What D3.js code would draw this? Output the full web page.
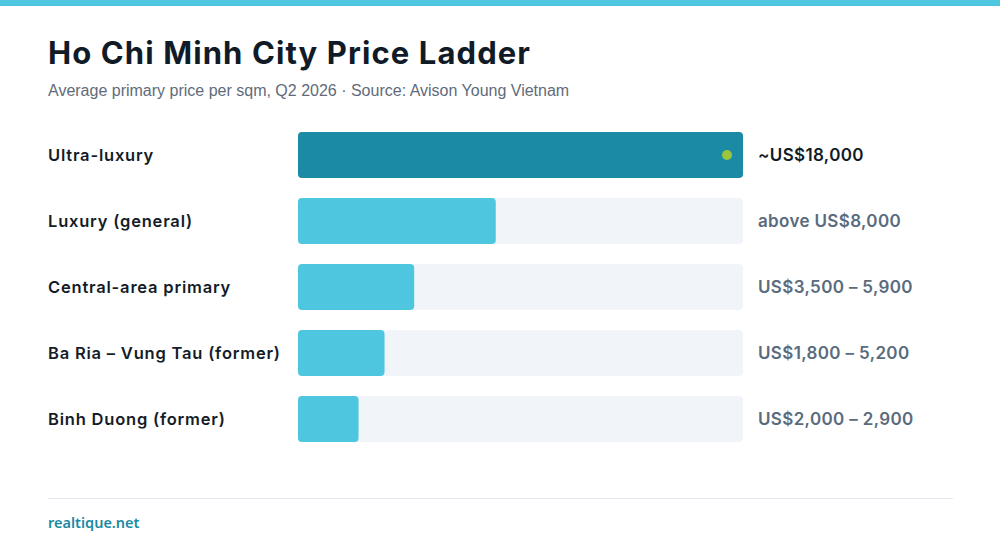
<!DOCTYPE html>
<html>
<head>
<meta charset="utf-8">
<script src="https://cdn.jsdelivr.net/npm/d3@7"></script>
<style>
  html, body { margin: 0; padding: 0; background: #fff; }
  svg { display: block; }
</style>
</head>
<body>
<svg id="chart"></svg>
<script>
// data
const categories = ["Ultra-luxury", "Luxury (general)", "Central-area primary", "Ba Ria \u2013 Vung Tau (former)", "Binh Duong (former)"];
const barValues = [18000, 8000, 4700, 3500, 2450]; // bar length (range midpoint), US$/sqm
const valueLabels = ["~US$18,000", "above US$8,000", "US$3,500 \u2013 5,900", "US$1,800 \u2013 5,200", "US$2,000 \u2013 2,900"];
const maxValue = 18000;

const width = 1000, height = 552;
const svg = d3.select("#chart").attr("width", width).attr("height", height);

// top band
svg.append("rect").attr("x", 0).attr("y", 0).attr("width", width).attr("height", 6).attr("fill", "#4fc6e0");

// title block
svg.append("text")
  .attr("x", 48).attr("y", 64)
  .attr("font-family", "Inter, 'Noto Sans', sans-serif")
  .attr("font-weight", 700)
  .attr("font-size", 31)
  .attr("letter-spacing", 1.1)
  .attr("fill", "#111b27")
  .text("Ho Chi Minh City Price Ladder");

svg.append("text")
  .attr("x", 48).attr("y", 96)
  .attr("font-family", "'Liberation Sans', Arial, sans-serif")
  .attr("font-size", 16)
  .attr("fill", "#5f6b7a")
  .text("Average primary price per sqm, Q2 2026 \u00b7 Source: Avison Young Vietnam");

// scales
const x = d3.scaleLinear().domain([0, maxValue]).range([0, 445]);
const y = d3.scaleBand().domain(categories).range([132, 442]).paddingInner(20 / 66).paddingOuter(0);
const x0 = 298;

const rows = svg.append("g").selectAll("g")
  .data(categories)
  .enter()
  .append("g");

// track
rows.append("rect")
  .attr("x", x0)
  .attr("y", d => y(d))
  .attr("width", x(maxValue))
  .attr("height", y.bandwidth())
  .attr("rx", 4)
  .attr("fill", "#f1f5f9");

// bar
rows.append("rect")
  .attr("x", x0)
  .attr("y", d => y(d))
  .attr("width", (d, i) => x(barValues[i]))
  .attr("height", y.bandwidth())
  .attr("rx", 4)
  .attr("fill", (d, i) => i === 0 ? "#1b8aa5" : "#4fc6e0");

// category labels
rows.append("text")
  .attr("x", 48)
  .attr("y", d => y(d) + y.bandwidth() / 2)
  .attr("dy", "0.35em")
  .attr("font-family", "Inter, 'Noto Sans', sans-serif")
  .attr("font-weight", 600)
  .attr("font-size", 16.5)
  .attr("letter-spacing", 0.8)
  .attr("fill", "#141c28")
  .text(d => d);

// value labels
rows.append("text")
  .attr("x", 758)
  .attr("y", d => y(d) + y.bandwidth() / 2)
  .attr("dy", "0.35em")
  .attr("font-family", "Inter, 'Noto Sans', sans-serif")
  .attr("font-weight", 600)
  .attr("font-size", 17)
  .attr("letter-spacing", 0.35)
  .attr("fill", (d, i) => i === 0 ? "#111b27" : "#5a6b7d")
  .text((d, i) => valueLabels[i]);

// accent dot on top bar
svg.append("circle")
  .attr("cx", x0 + x(barValues[0]) - 16)
  .attr("cy", y(categories[0]) + y.bandwidth() / 2)
  .attr("r", 5)
  .attr("fill", "#9bc53d");

// footer
svg.append("line")
  .attr("x1", 48).attr("x2", 953)
  .attr("y1", 498.5).attr("y2", 498.5)
  .attr("stroke", "#e2e8f0").attr("stroke-width", 1);

svg.append("text")
  .attr("x", 48).attr("y", 528)
  .attr("font-family", "'Noto Sans', sans-serif")
  .attr("font-weight", 600)
  .attr("font-size", 14.5)
  .attr("fill", "#1b8aa5")
  .text("realtique.net");
</script>
</body>
</html>
